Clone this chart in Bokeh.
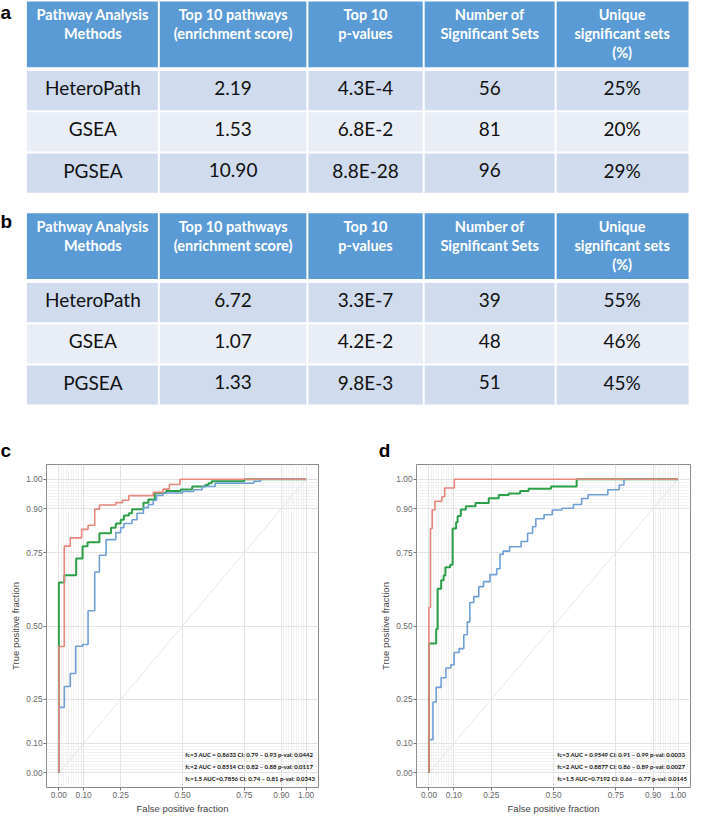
from bokeh.plotting import figure
from bokeh.layouts import column, row
from bokeh.models import (Range1d, FixedTicker, Legend, LegendItem,
                          NumeralTickFormatter)
from bokeh.core.properties import value
from bokeh.embed import file_html
from bokeh.resources import INLINE

# ---------------- table data ----------------
headers = ["Pathway Analysis\nMethods", "Top 10 pathways\n(enrichment score)",
           "Top 10\np-values", "Number of\nSignificant Sets",
           "Unique\nsignificant sets\n(%)"]
methods = ["HeteroPath", "GSEA", "PGSEA"]

a_enrich = ["2.19", "1.53", "10.90"]
a_pval = ["4.3E-4", "6.8E-2", "8.8E-28"]
a_nsig = ["56", "81", "96"]
a_unique = ["25%", "20%", "29%"]

b_enrich = ["6.72", "1.07", "1.33"]
b_pval = ["3.3E-7", "4.2E-2", "9.8E-3"]
b_nsig = ["39", "48", "51"]
b_unique = ["55%", "46%", "45%"]

# ---------------- ROC data (step corner points) ----------------
c_fc3_fpr = [0, 0, 0.022, 0.070, 0.096, 0.116, 0.164, 0.211, 0.230, 0.250, 0.263, 0.283,
             0.296, 0.342, 0.362, 0.388, 0.434, 0.493, 0.539, 0.592, 0.605, 0.618, 0.75, 1.0]
c_fc3_tpr = [0, 0.648, 0.673, 0.730, 0.772, 0.785, 0.816, 0.835, 0.849, 0.862, 0.876, 0.884,
             0.898, 0.920, 0.931, 0.953, 0.960, 0.965, 0.975, 0.980, 0.986, 0.993, 1.0, 1.0]
c_fc2_fpr = [0, 0, 0.022, 0.046, 0.092, 0.118, 0.145, 0.164, 0.230, 0.257, 0.283, 0.382,
             0.421, 0.447, 0.49, 1.0]
c_fc2_tpr = [0, 0.43, 0.772, 0.80, 0.829, 0.843, 0.898, 0.912, 0.92, 0.928, 0.944, 0.955,
             0.966, 0.982, 1.0, 1.0]
c_fc15_fpr = [0, 0, 0.022, 0.046, 0.068, 0.096, 0.118, 0.145, 0.164, 0.191, 0.230, 0.250,
              0.263, 0.296, 0.316, 0.342, 0.362, 0.382, 0.395, 0.421, 0.50, 0.546, 0.579,
              0.632, 0.789, 0.816, 1.0]
c_fc15_tpr = [0, 0.223, 0.294, 0.338, 0.431, 0.437, 0.552, 0.684, 0.741, 0.794, 0.818, 0.835,
              0.849, 0.862, 0.884, 0.903, 0.914, 0.928, 0.945, 0.953, 0.958, 0.964, 0.975,
              0.986, 0.993, 1.0, 1.0]

d_fc3_fpr = [0, 0, 0.029, 0.035, 0.049, 0.059, 0.066, 0.085, 0.095, 0.109, 0.115, 0.128,
             0.148, 0.187, 0.24, 0.28, 0.32, 0.366, 0.40, 0.49, 0.593, 1.0]
d_fc3_tpr = [0, 0.44, 0.49, 0.627, 0.656, 0.672, 0.70, 0.709, 0.832, 0.853, 0.875, 0.897,
             0.908, 0.919, 0.935, 0.946, 0.951, 0.96, 0.967, 0.975, 1.0, 1.0]
d_fc2_fpr = [0, 0, 0.006, 0.013, 0.024, 0.052, 0.063, 0.102, 1.0]
d_fc2_tpr = [0, 0.563, 0.832, 0.895, 0.925, 0.94, 0.97, 1.0, 1.0]
d_fc15_fpr = [0, 0, 0.016, 0.029, 0.049, 0.068, 0.088, 0.101, 0.121, 0.140, 0.154, 0.164,
              0.18, 0.20, 0.219, 0.245, 0.272, 0.285, 0.298, 0.324, 0.37, 0.396, 0.416,
              0.429, 0.462, 0.495, 0.534, 0.58, 0.613, 0.639, 0.718, 0.764, 0.783, 1.0]
d_fc15_tpr = [0, 0.113, 0.241, 0.291, 0.324, 0.357, 0.368, 0.41, 0.423, 0.47, 0.514, 0.58,
              0.60, 0.634, 0.651, 0.675, 0.695, 0.744, 0.755, 0.77, 0.788, 0.816, 0.838,
              0.865, 0.879, 0.895, 0.901, 0.914, 0.934, 0.947, 0.964, 0.98, 1.0, 1.0]

c_labels = ["fc=3 AUC = 0.8633 CI: 0.79 \u2013 0.93 p-val: 0.0442",
            "fc=2 AUC = 0.8514 CI: 0.82 \u2013 0.88 p-val: 0.0117",
            "fc=1.5 AUC=0.7856 CI: 0.74 \u2013 0.81 p-val: 0.0343"]
d_labels = ["fc=3 AUC = 0.9549 CI: 0.91 \u2013 0.99 p-val: 0.0033",
            "fc=2 AUC = 0.8877 CI: 0.86 \u2013 0.89 p-val: 0.0027",
            "fc=1.5 AUC=0.7192 CI: 0.66 \u2013 0.77 p-val: 0.0145"]

major_ticks = [0, 0.1, 0.25, 0.5, 0.75, 0.9, 1.0]
diag = [0, 1]

# ---------------- styles ----------------
HEAD = "#5b9bd5"
ROW_DARK = "#d0dbee"
ROW_LIGHT = "#e9edf6"
CURVE = {"fc3": "#2ca048", "fc2": "#e8877d", "fc15": "#6f9fd6"}
LEG = {"fc3": "#b9d5b0", "fc2": "#d7191c", "fc15": "#5b9bd5"}

# ---------------- table figure ----------------
REF_W, REF_TOP_H = 707, 470
tf = figure(width=691, height=461, x_range=Range1d(0, REF_W), y_range=Range1d(REF_TOP_H, 0),
            x_axis_type=None, y_axis_type=None, output_backend="svg",
            toolbar_location=None, min_border=0)
tf.grid.visible = False
tf.outline_line_color = None

col_edges = [27, 162, 314, 433, 568, 704]
HEAD_H, GAP, ROW_H, SEP = 67, 4, 40, 2


def draw_table(fig, top, cols):
    ncol = len(col_edges) - 1
    lefts = [col_edges[i] + (1 if i > 0 else 0) for i in range(ncol)]
    rights = [col_edges[i + 1] - (1 if i < ncol - 1 else 0) for i in range(ncol)]
    centers = [(col_edges[i] + col_edges[i + 1]) / 2 for i in range(ncol)]
    fig.quad(left=lefts, right=rights, top=[top] * ncol, bottom=[top + HEAD_H] * ncol,
             fill_color=HEAD, line_color=None)
    hx, hy, ht = [], [], []
    for i, h in enumerate(headers):
        for j, line in enumerate(h.split("\n")):
            hx.append(centers[i])
            hy.append(top + 13 + j * 19.7)
            ht.append(line)
    fig.text(x=hx, y=hy, text=ht, text_color="white", text_font=value("Lato"),
             text_font_style="bold", text_font_size="14.5px", text_align="center",
             text_baseline="middle")
    nrow = len(cols[0])
    bx, by, bt = [], [], []
    for r in range(nrow):
        rt = top + HEAD_H + GAP + r * (ROW_H + SEP)
        fill = ROW_DARK if r % 2 == 0 else ROW_LIGHT
        fig.quad(left=lefts, right=rights, top=[rt] * ncol, bottom=[rt + ROW_H] * ncol,
                 fill_color=fill, line_color=None)
        for i in range(ncol):
            bx.append(centers[i])
            by.append(rt + ROW_H / 2 - 3)
            bt.append(cols[i][r])
    fig.text(x=bx, y=by, text=bt, text_color="#111111", text_font=value("Lato"),
             text_font_size="19px", text_align="center", text_baseline="middle")


draw_table(tf, 1, [methods, a_enrich, a_pval, a_nsig, a_unique])
draw_table(tf, 217, [methods, b_enrich, b_pval, b_nsig, b_unique])

panel_letters = ["a", "b", "c", "d"]
tf.text(x=[0, 0, 0, 387], y=[12, 225, 459, 459], text=panel_letters, text_color="black",
        text_font=value("Liberation Sans"), text_font_style="bold", text_font_size="19px",
        text_align="left", text_baseline="middle")


# ---------------- ROC figures ----------------
def roc_fig(width, b_left, b_right, curves, labels):
    p = figure(width=width, height=355, x_range=Range1d(-0.05, 1.05),
               y_range=Range1d(-0.05, 1.05), output_backend="svg", toolbar_location=None,
               min_border_left=b_left, min_border_right=b_right, min_border_top=3,
               min_border_bottom=26)
    p.outline_line_color = "#8a8a8a"
    p.outline_line_width = 1
    minor = [k / 100 for k in list(range(1, 10)) + list(range(91, 100))]
    for g in (p.xgrid, p.ygrid):
        g.ticker = FixedTicker(ticks=major_ticks, minor_ticks=minor)
        g.grid_line_color = "#e3e3e3"
        g.grid_line_width = 1
        g.minor_grid_line_color = "#ececec"
        g.minor_grid_line_width = 0.7
    for ax in (p.xaxis, p.yaxis):
        ax.ticker = FixedTicker(ticks=major_ticks)
        ax.formatter = NumeralTickFormatter(format="0.00")
        ax.axis_line_color = None
        ax.major_tick_line_color = "#777777"
        ax.major_tick_out = 3
        ax.major_tick_in = 0
        ax.minor_tick_line_color = None
        ax.major_label_text_font = "Liberation Sans"
        ax.major_label_text_font_size = "8.3px"
        ax.major_label_text_color = "#666666"
        ax.major_label_standoff = 1
        ax.axis_label_text_font = "Liberation Sans"
        ax.axis_label_text_font_size = "9.5px"
        ax.axis_label_text_font_style = "normal"
        ax.axis_label_text_color = "#444444"
        ax.axis_label_standoff = 2
    p.xaxis.axis_label = "False positive fraction"
    p.yaxis.axis_label = "True positive fraction"

    p.line(diag, diag, line_color="#e6e6e6", line_width=1)
    for key, (fx, ty) in curves:
        p.step(fx, ty, mode="after", line_color=CURVE[key],
               line_width=2 if key == "fc3" else 1.6)

    items = []
    for key, lab in zip(["fc3", "fc2", "fc15"], labels):
        r = p.line(x=[], y=[], line_color=LEG[key], line_width=1.6)
        items.append(LegendItem(label=lab, renderers=[r]))
    leg = Legend(items=items, location="bottom_right", label_text_font="Lato",
                 label_text_font_style="bold", label_text_font_size="6px",
                 label_text_color="#111111", glyph_width=18, glyph_height=12,
                 label_height=12, label_standoff=7, spacing=0, padding=2, margin=3,
                 background_fill_alpha=0, border_line_color=None)
    p.add_layout(leg)
    return p


pc = roc_fig(345, 46, 27,
             [("fc3", (c_fc3_fpr, c_fc3_tpr)), ("fc15", (c_fc15_fpr, c_fc15_tpr)),
              ("fc2", (c_fc2_fpr, c_fc2_tpr))], c_labels)
pd_ = roc_fig(346, 71, 1,
              [("fc15", (d_fc15_fpr, d_fc15_tpr)), ("fc3", (d_fc3_fpr, d_fc3_tpr)),
               ("fc2", (d_fc2_fpr, d_fc2_tpr))], d_labels)

layout = column(tf, row(pc, pd_))
open("out.html", "w").write(file_html(layout, INLINE))
